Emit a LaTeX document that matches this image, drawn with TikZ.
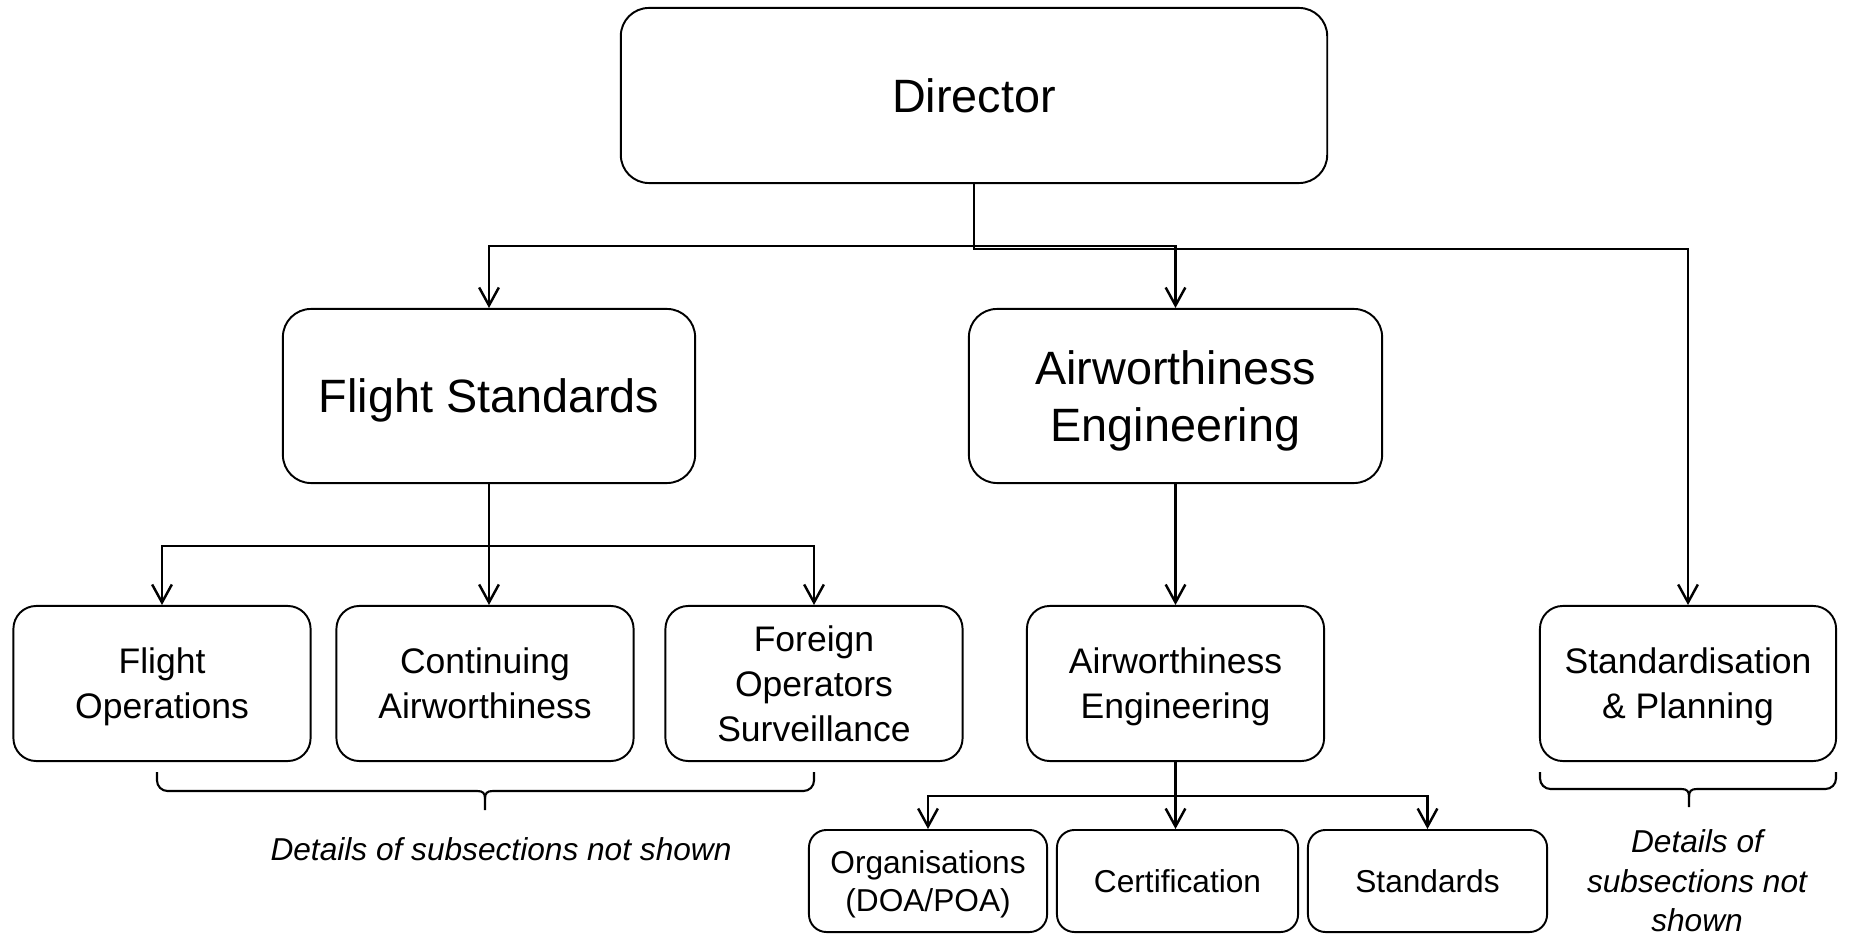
\documentclass[tikz,border=0pt]{standalone}
\usepackage{fontspec}
\setmainfont{Liberation Sans}
\usetikzlibrary{arrows.meta}
\begin{document}
\begin{tikzpicture}[x=0.01cm,y=-0.01cm,
  box/.style={draw,line width=0.55pt,inner sep=0pt,align=center,text depth=0pt},
  bigbox/.style={box,rounded corners=8pt,minimum height=1.74cm,font=\fontsize{13.3}{16.2}\selectfont},
  midbox/.style={box,rounded corners=6.5pt,minimum width=2.97cm,minimum height=1.55cm,font=\fontsize{10.1}{12.8}\selectfont},
  smallbox/.style={box,rounded corners=5pt,minimum height=1.02cm,font=\fontsize{9}{10.8}\selectfont},
  arr/.style={line width=0.8pt,-{Straight Barb[length=5.1pt,width=5.6pt,line width=0.7pt]}},
  bracepath/.style={line width=0.6pt,rounded corners=3pt},
  note/.style={font=\fontsize{9}{11.2}\selectfont\itshape,align=center,inner sep=0pt}]
\useasboundingbox (0,0) rectangle (1849,934);
% top levels
\node[bigbox,minimum width=7.06cm,minimum height=1.75cm] (dir) at (974,95.5) {Director};
\node[bigbox,minimum width=4.12cm] (fs) at (489,396) {Flight Standards};
\node[bigbox,minimum width=4.13cm] (ae) at (1175.5,396) {Airworthiness\\Engineering};
% second level
\node[midbox] (fo) at (162,683.5) {Flight\\Operations};
\node[midbox] (ca) at (485,683.5) {Continuing\\Airworthiness};
\node[midbox] (fos) at (814,683.5) {Foreign\\Operators\\Surveillance};
\node[midbox] (aec) at (1175.5,683.5) {Airworthiness\\Engineering};
\node[midbox,minimum width=2.96cm] (sp) at (1688,683.5) {Standardisation\\\&~Planning};
% third level
\node[smallbox,minimum width=2.38cm] (org) at (928,881) {Organisations\\(DOA/POA)};
\node[smallbox,minimum width=2.41cm] (cert) at (1177.5,881) {Certification};
\node[smallbox,minimum width=2.39cm] (std) at (1427.5,881) {Standards};
% connectors from director
\draw[arr] (dir.south) -- ++(0,62) -| (fs.north);
\draw[arr] (dir.south) -- ++(0,62) -| (ae.north);
\draw[arr] (dir.south) -- ++(0,65) -| (sp.north);
% flight standards children
\draw[arr] (fs.south) -- ++(0,62) -| (fo.north);
\draw[arr] (fs.south) -- (fs.south |- ca.north);
\draw[arr] (fs.south) -- ++(0,62) -| (fos.north);
% airworthiness
\draw[arr] (ae.south) -- (aec.north);
\draw[arr] (aec.south) -- ++(0,34) -| (org.north);
\draw[arr] (aec.south) -- (aec.south |- cert.north);
\draw[arr] (aec.south) -- ++(0,34) -| (std.north);
% left brace
\coordinate (lb1) at (157,772);
\coordinate (lb2) at (814,772);
\coordinate (lbm) at (485,810);
\draw[bracepath] (lb1) -- (157,791) -- (477,791);
\draw[line width=0.6pt] (477,791) .. controls (483,791) and (485,793) .. (485,799) -- (lbm);
\draw[line width=0.6pt] (493,791) .. controls (487,791) and (485,793) .. (485,799);
\draw[bracepath] (493,791) -- (814,791) -- (lb2);
\node[note,anchor=base] (ln) at (501,860) {Details of subsections not shown};
% right brace
\coordinate (rb1) at (1540,772);
\coordinate (rb2) at (1836,772);
\coordinate (rbm) at (1689,807);
\draw[bracepath] (rb1) -- (1540,789) -- (1681,789);
\draw[line width=0.6pt] (1681,789) .. controls (1687,789) and (1689,791) .. (1689,797) -- (rbm);
\draw[line width=0.6pt] (1697,789) .. controls (1691,789) and (1689,791) .. (1689,797);
\draw[bracepath] (1697,789) -- (1836,789) -- (rb2);
\node[note,anchor=north] (rn) at (1697,829) {Details of\\subsections not\\shown};
\end{tikzpicture}
\end{document}
